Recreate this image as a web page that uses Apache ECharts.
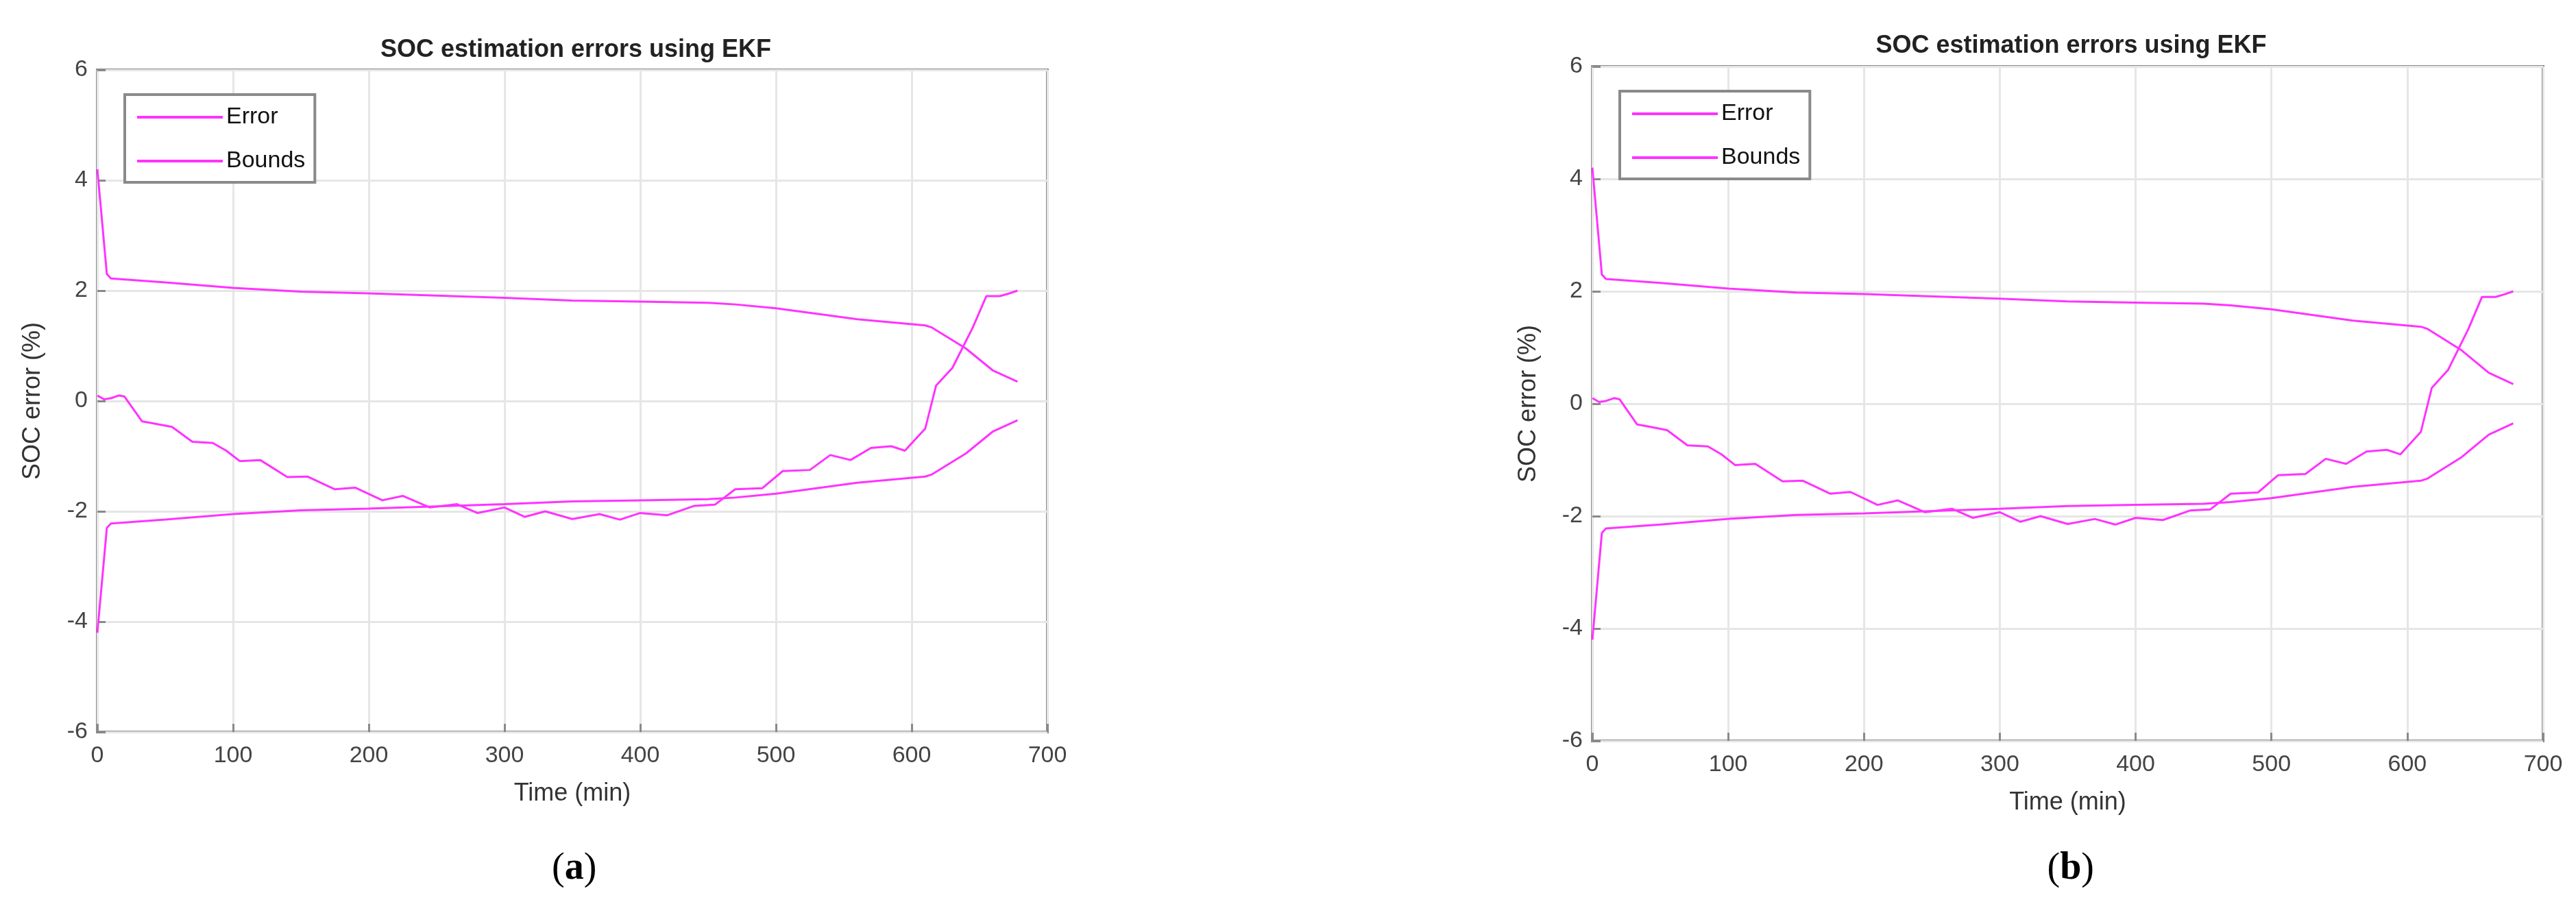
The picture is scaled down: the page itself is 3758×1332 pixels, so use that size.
<!DOCTYPE html>
<html>
<head>
<meta charset="utf-8">
<script src="https://cdn.jsdelivr.net/npm/echarts@6/dist/echarts.min.js"></script>
<style>html,body{margin:0;padding:0;background:#fff}#c{width:3758px;height:1332px}</style>
</head>
<body>
<div id="c"></div>
<script>
// 读图得到的数据 (time min, SOC error %)
var errT = [0,5,10,16,20,33,40,55,70,85,95,105,120,140,155,175,190,210,225,245,265,280,300,315,330,350,370,385,400,420,440,455,470,490,505,525,540,555,570,585,595,610,618,630,645,655,665,672,678];
var errV = [0.1,0.03,0.05,0.1,0.08,-0.37,-0.4,-0.47,-0.74,-0.76,-0.9,-1.09,-1.07,-1.38,-1.37,-1.6,-1.57,-1.8,-1.72,-1.93,-1.87,-2.03,-1.93,-2.1,-2.0,-2.14,-2.05,-2.15,-2.03,-2.07,-1.9,-1.88,-1.6,-1.58,-1.27,-1.25,-0.98,-1.07,-0.85,-0.82,-0.9,-0.5,0.28,0.6,1.33,1.9,1.9,1.95,2.0];
var bndT = [0,7,10,50,100,150,200,300,350,400,450,470,500,560,610,615,640,660,678];
var upV = [4.2,2.3,2.22,2.15,2.05,1.98,1.95,1.87,1.82,1.8,1.78,1.75,1.68,1.48,1.37,1.33,0.95,0.55,0.35];
var loV = [-4.2,-2.3,-2.22,-2.15,-2.05,-1.98,-1.95,-1.87,-1.82,-1.8,-1.78,-1.75,-1.68,-1.48,-1.37,-1.33,-0.95,-0.55,-0.35];
var titleText = 'SOC estimation errors using EKF';
var panelLabels = ['a', 'b'];

function pairs (t, v) {
  return t.map(function (x, i) { return [x, v[i]]; });
}

var MAG = '#ff33ff';
var panels = [
  { left: 142, top: 102, width: 1386, height: 966, titleY: 50, ylabGap: 76 },
  { left: 2323, top: 97, width: 1387, height: 984, titleY: 44, ylabGap: 75 }
];

var option = { animation: false, title: [], legend: [], grid: [], xAxis: [], yAxis: [], series: [], graphic: [] };

panels.forEach(function (p, k) {
  option.grid.push({ left: p.left, top: p.top, width: p.width, height: p.height, show: true, borderColor: '#8a8a8a', borderWidth: 4 });
  option.title.push({
    text: titleText, left: p.left + p.width / 2, top: p.titleY, textAlign: 'center',
    textStyle: { fontFamily: 'Liberation Sans', fontWeight: 'bold', fontSize: 36, color: '#222' }
  });
  var axisLbl = { fontFamily: 'Liberation Sans', fontSize: 34, color: '#444' };
  var tick = { inside: true, length: 12, lineStyle: { color: '#8a8a8a', width: 3 } };
  option.xAxis.push({
    type: 'value', gridIndex: k, min: 0, max: 700, interval: 100,
    name: 'Time (min)', nameLocation: 'middle', nameGap: 72,
    nameTextStyle: { fontFamily: 'Liberation Sans', fontSize: 36, color: '#333' },
    axisLine: { show: false, onZero: false }, axisTick: tick,
    axisLabel: Object.assign({ margin: 18 }, axisLbl),
    splitLine: { lineStyle: { color: '#e6e6e6', width: 3 } }
  });
  option.yAxis.push({
    type: 'value', gridIndex: k, min: -6, max: 6, interval: 2,
    name: 'SOC error (%)', nameLocation: 'middle', nameGap: p.ylabGap,
    nameTextStyle: { fontFamily: 'Liberation Sans', fontSize: 36, color: '#333' },
    axisLine: { show: false, onZero: false }, axisTick: tick,
    axisLabel: Object.assign({ margin: 14 }, axisLbl),
    splitLine: { lineStyle: { color: '#e6e6e6', width: 3 } }
  });
  var ls = { color: MAG, width: 3 };
  option.series.push(
    { name: 'Error', type: 'line', xAxisIndex: k, yAxisIndex: k, data: pairs(errT, errV), symbol: 'none', lineStyle: ls, itemStyle: { color: MAG } },
    { name: 'Bounds', type: 'line', xAxisIndex: k, yAxisIndex: k, data: pairs(bndT, upV), symbol: 'none', lineStyle: ls, itemStyle: { color: MAG } },
    { name: 'Bounds', type: 'line', xAxisIndex: k, yAxisIndex: k, data: pairs(bndT, loV), symbol: 'none', lineStyle: ls, itemStyle: { color: MAG } }
  );
  option.legend.push({
    data: ['Error', 'Bounds'], orient: 'vertical', left: p.left + 40, top: p.top + 36,
    icon: 'rect', itemWidth: 125, itemHeight: 4, itemGap: 30, padding: [16, 14, 14, 18],
    borderColor: '#8a8a8a', borderWidth: 4, backgroundColor: '#fff',
    textStyle: { fontFamily: 'Liberation Sans', fontSize: 34, color: '#111' }
  });
  option.graphic.push({
    type: 'text', left: p.left + p.width / 2 - 30, top: 1240,
    style: {
      rich: { p: { fontFamily: 'Liberation Serif', fontSize: 56, fill: '#000' }, b: { fontFamily: 'Liberation Serif', fontSize: 56, fontWeight: 'bold', fill: '#000' } },
      text: '{p|(}{b|' + panelLabels[k] + '}{p|)}'
    }
  });
});

var chart = echarts.init(document.getElementById('c'));
chart.setOption(option);
</script>
</body>
</html>
